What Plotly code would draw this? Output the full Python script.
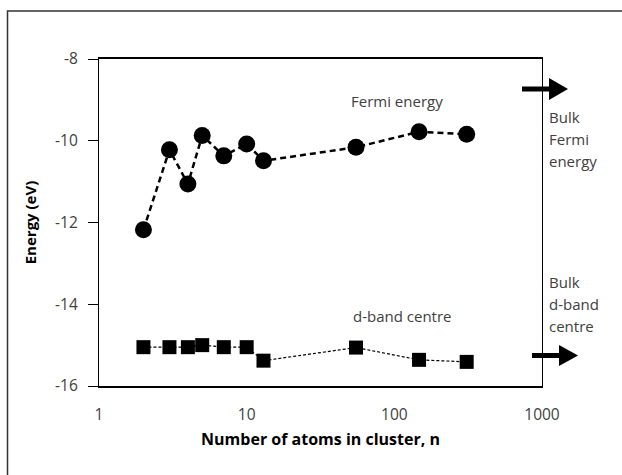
import plotly.graph_objects as go

n_atoms = [2, 3, 4, 5, 7, 10, 13, 55, 147, 309]
fermi_energy = [-12.18, -10.22, -11.06, -9.87, -10.37, -10.08, -10.49, -10.16, -9.78, -9.84]
dband_centre = [-15.05, -15.05, -15.05, -15.0, -15.05, -15.05, -15.38, -15.06, -15.36, -15.41]
y_ticks = [-8, -10, -12, -14, -16]
x_ticks = [1, 10, 100, 1000]
bulk_fermi_lines = ["Bulk", "Fermi", "energy"]
bulk_dband_lines = ["Bulk", "d-band", "centre"]

W, H = 622, 475
L, R, T, B = 99, 80, 59, 89
pw, ph = W - L - R, H - T - B

def px(x):
    return (x - L) / pw

def py(y):
    return (H - B - y) / ph

FONT = "Open Sans"
GREY = "#404040"

fig = go.Figure()
fig.add_trace(go.Scatter(
    x=n_atoms, y=fermi_energy, mode="lines+markers",
    line=dict(color="black", width=2.5, dash="6px,4px"),
    marker=dict(symbol="circle", size=17, color="black"),
    showlegend=False))
fig.add_trace(go.Scatter(
    x=n_atoms, y=dband_centre, mode="lines+markers",
    line=dict(color="black", width=1.2, dash="3px,2px"),
    marker=dict(symbol="square", size=14, color="black"),
    showlegend=False))

shapes = []
# outer frame
shapes.append(dict(type="rect", xref="paper", yref="paper",
                   x0=px(7.5), x1=px(640), y0=py(500), y1=py(11),
                   line=dict(color="#333333", width=1.5)))
# Fermi arrow
shapes.append(dict(type="line", xref="paper", yref="paper",
                   x0=px(522), x1=px(552), y0=py(89), y1=py(89),
                   line=dict(color="black", width=5)))
shapes.append(dict(type="path", xref="paper", yref="paper",
                   path=f"M {px(549)},{py(78)} L {px(568)},{py(89)} L {px(549)},{py(100)} Z",
                   fillcolor="black", line=dict(color="black", width=0)))
# d-band arrow
shapes.append(dict(type="line", xref="paper", yref="paper",
                   x0=px(532), x1=px(562), y0=py(355.5), y1=py(355.5),
                   line=dict(color="black", width=5)))
shapes.append(dict(type="path", xref="paper", yref="paper",
                   path=f"M {px(559)},{py(345)} L {px(578)},{py(355.5)} L {px(559)},{py(366)} Z",
                   fillcolor="black", line=dict(color="black", width=0)))

ann_font = dict(family=FONT, size=15, color=GREY)
annotations = [
    dict(text="Fermi energy", x=px(397), y=py(101), xref="paper", yref="paper",
         showarrow=False, xanchor="center", yanchor="middle", font=ann_font),
    dict(text="d-band centre", x=px(402), y=py(316), xref="paper", yref="paper",
         showarrow=False, xanchor="center", yanchor="middle", font=ann_font),
]
for i, t in enumerate(bulk_fermi_lines):
    annotations.append(dict(text=t, x=px(547), y=py(117 + 22 * i), xref="paper", yref="paper",
                            showarrow=False, xanchor="left", yanchor="middle", font=ann_font))
for i, t in enumerate(bulk_dband_lines):
    annotations.append(dict(text=t, x=px(547), y=py(282 + 22 * i), xref="paper", yref="paper",
                            showarrow=False, xanchor="left", yanchor="middle", font=ann_font))

fig.update_layout(
    width=W, height=H,
    margin=dict(l=L, r=R, t=T, b=B),
    paper_bgcolor="white", plot_bgcolor="white",
    shapes=shapes, annotations=annotations,
    font=dict(family=FONT, size=13, color=GREY),
    xaxis=dict(type="log", range=[0, 3], tickvals=x_ticks,
               ticktext=[str(v) for v in x_ticks],
               showgrid=False, zeroline=False, showline=True,
               linecolor="black", linewidth=2, mirror=True, ticks="",
               tickfont=dict(family=FONT, size=15.5, color=GREY),
               ticklabelstandoff=13,
               title=dict(text="<b>Number of atoms in cluster, n</b>",
                          font=dict(family=FONT, size=16, color="black"),
                          standoff=10)),
    yaxis=dict(range=[-16, -8], tickvals=y_ticks,
               ticktext=[str(v) for v in y_ticks],
               showgrid=False, zeroline=False, showline=True,
               linecolor="black", linewidth=1.2, mirror=True,
               ticks="outside", ticklen=10, tickcolor="black", tickwidth=1,
               tickfont=dict(family=FONT, size=15.5, color=GREY),
               ticklabelstandoff=7,
               title=dict(text="<b>Energy (eV)</b>",
                          font=dict(family=FONT, size=15, color="black"),
                          standoff=14)),
)

fig.write_html("out.html")
